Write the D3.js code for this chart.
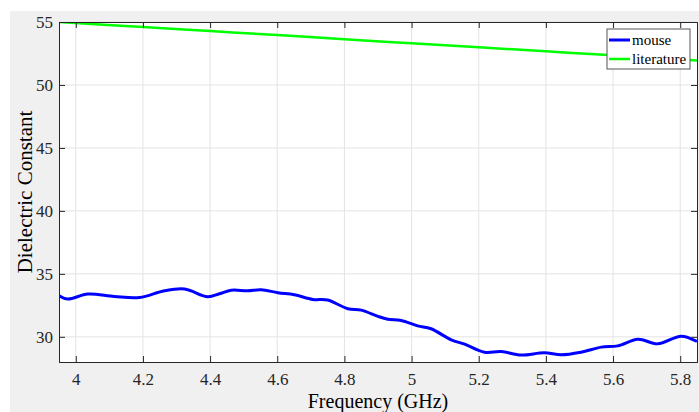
<!DOCTYPE html>
<html>
<head>
<meta charset="utf-8">
<script src="https://cdn.jsdelivr.net/npm/d3@7"></script>
<style>
  body { margin: 0; background: #ffffff; }
  svg { display: block; }
</style>
</head>
<body>
<div class="graph-container"></div>
<script>
// data
var freqMouse = [3.949, 3.976, 4.036, 4.115, 4.19, 4.264, 4.324, 4.393, 4.428, 4.463, 4.512, 4.552,
                 4.602, 4.651, 4.706, 4.75, 4.81, 4.85, 4.9, 4.929, 4.969, 5.018, 5.058, 5.118, 5.158,
                 5.217, 5.267, 5.326, 5.395, 5.446, 5.505, 5.565, 5.614, 5.674, 5.733, 5.803, 5.85];
var epsMouse  = [33.28, 33.0, 33.4, 33.2, 33.12, 33.66, 33.8, 33.18, 33.42, 33.7, 33.66, 33.74,
                 33.5, 33.34, 32.97, 32.92, 32.23, 32.12, 31.62, 31.4, 31.3, 30.87, 30.64, 29.76, 29.42,
                 28.78, 28.83, 28.55, 28.73, 28.57, 28.78, 29.18, 29.28, 29.81, 29.44, 30.05, 29.63];
var freqLit = [3.95, 4.2, 4.4, 4.6, 4.8, 5.0, 5.2, 5.4, 5.6, 5.85];
var epsLit  = [55.0, 54.6, 54.28, 53.96, 53.63, 53.31, 52.99, 52.67, 52.35, 51.95];
var xTicks = [4, 4.2, 4.4, 4.6, 4.8, 5, 5.2, 5.4, 5.6, 5.8];
var yTicks = [30, 35, 40, 45, 50, 55];
var seriesNames = ["mouse", "literature"];
var seriesColors = ["#0000ff", "#00ff00"];

var W = 699, H = 412;
var margin = { top: 22, left: 59, bottom: 50, right: 2 };
var width = W - margin.left - margin.right,
    height = H - margin.top - margin.bottom;

var svg = d3.select(".graph-container").append("svg")
    .attr("width", W)
    .attr("height", H);

// grey figure background
svg.append("rect")
    .attr("x", 10).attr("y", 11)
    .attr("width", W - 10).attr("height", H - 11)
    .attr("fill", "#f0f0f0");

var g = svg.append("g")
    .attr("transform", "translate(" + margin.left + "," + margin.top + ")");

g.append("rect")
    .attr("width", width).attr("height", height)
    .attr("fill", "#ffffff");

var x = d3.scaleLinear().domain([3.95, 5.85]).range([0, width]);
var y = d3.scaleLinear().domain([28, 55]).range([height, 0]);

// grid
g.append("g").selectAll("line").data(xTicks).enter().append("line")
    .attr("x1", d => x(d)).attr("x2", d => x(d))
    .attr("y1", 0).attr("y2", height)
    .attr("stroke", "#e3e3e3").attr("stroke-width", 1);
g.append("g").selectAll("line").data(yTicks).enter().append("line")
    .attr("x1", 0).attr("x2", width)
    .attr("y1", d => y(d)).attr("y2", d => y(d))
    .attr("stroke", "#e3e3e3").attr("stroke-width", 1);

// lines
g.append("clipPath").attr("id", "clip")
    .append("rect").attr("width", width).attr("height", height);

var line = d3.line()
    .x(d => x(d[0]))
    .y(d => y(d[1]))
    .curve(d3.curveCatmullRom);

var plot = g.append("g").attr("clip-path", "url(#clip)");

plot.append("path")
    .datum(d3.zip(freqMouse, epsMouse))
    .attr("d", line)
    .attr("fill", "none")
    .attr("stroke", seriesColors[0])
    .attr("stroke-width", 3);

plot.append("path")
    .datum(d3.zip(freqLit, epsLit))
    .attr("d", line)
    .attr("fill", "none")
    .attr("stroke", seriesColors[1])
    .attr("stroke-width", 2.5);

// axes (box with inward ticks)
var axisColor = "#262626";
var font = "'Liberation Serif', 'Times New Roman', serif";

var xAxis = g.append("g")
    .attr("transform", "translate(0," + height + ")")
    .call(d3.axisBottom(x).tickValues(xTicks).tickSize(-6).tickPadding(11).tickFormat(d3.format("")));
var xTop = g.append("g")
    .call(d3.axisTop(x).tickValues(xTicks).tickSize(-6).tickFormat(""));
var yAxis = g.append("g")
    .call(d3.axisLeft(y).tickValues(yTicks).tickSize(-6).tickPadding(6));
var yRight = g.append("g")
    .attr("transform", "translate(" + width + ",0)")
    .call(d3.axisRight(y).tickValues(yTicks).tickSize(-6).tickFormat(""));

[xAxis, xTop, yAxis, yRight].forEach(a => {
    a.attr("font-family", null).attr("font-size", null);
    a.select(".domain").attr("stroke", axisColor).attr("stroke-width", 1);
    a.selectAll(".tick line").attr("stroke", axisColor);
    a.selectAll("text")
        .attr("fill", axisColor)
        .style("font-family", font)
        .style("font-size", "17px");
});

// axis labels
svg.append("text")
    .attr("x", margin.left + width / 2)
    .attr("y", 407.5)
    .attr("text-anchor", "middle")
    .style("font-family", font)
    .style("font-size", "20px")
    .attr("fill", "#000")
    .text("Frequency (GHz)");

svg.append("text")
    .attr("transform", "translate(25," + (margin.top + height / 2) + ") rotate(-90)")
    .attr("text-anchor", "middle")
    .attr("dy", "0.35em")
    .style("font-family", font)
    .style("font-size", "21px")
    .attr("fill", "#000")
    .text("Dielectric Constant");

// legend
var lg = g.append("g").attr("transform", "translate(" + (width - 90) + ",7)");
lg.append("rect")
    .attr("width", 83).attr("height", 40)
    .attr("fill", "#ffffff")
    .attr("stroke", "#555555").attr("stroke-width", 1);
seriesNames.forEach((name, i) => {
    var yy = 11 + i * 19;
    lg.append("line")
        .attr("x1", 2).attr("x2", 23)
        .attr("y1", yy).attr("y2", yy)
        .attr("stroke", seriesColors[i])
        .attr("stroke-width", i === 0 ? 3 : 2.5);
    lg.append("text")
        .attr("x", 25).attr("y", yy + 5)
        .style("font-family", font)
        .style("font-size", "15px")
        .attr("fill", "#000")
        .text(name);
});
</script>
</body>
</html>
